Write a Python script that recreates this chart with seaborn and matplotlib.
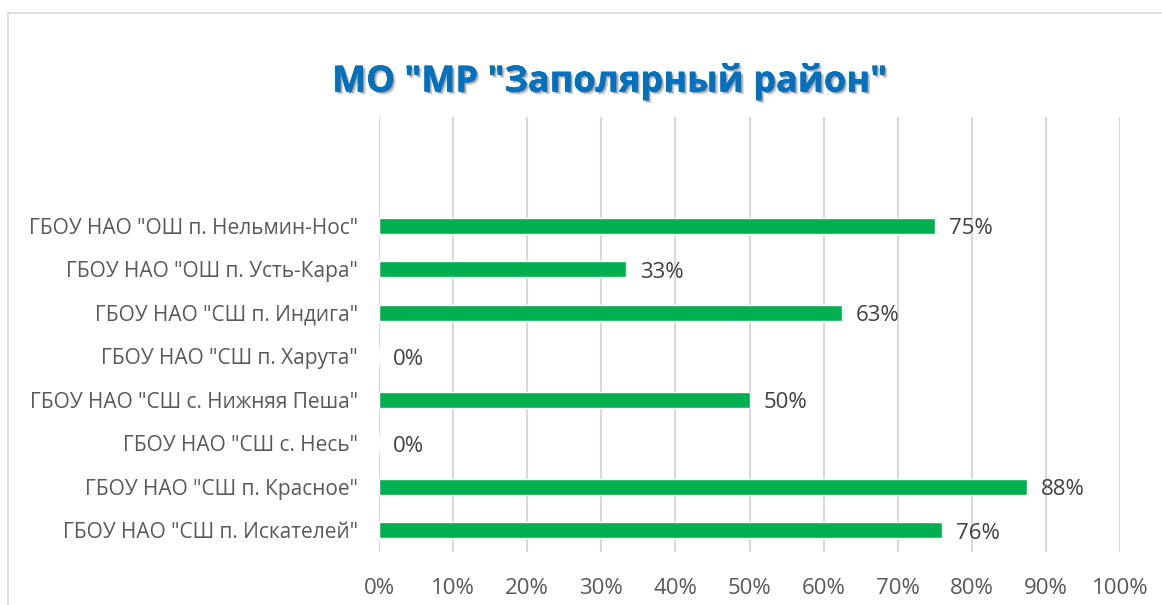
import matplotlib
matplotlib.use("Agg")
import matplotlib.pyplot as plt
import matplotlib.patheffects as pe
from matplotlib.patches import Rectangle
from matplotlib.ticker import MultipleLocator, PercentFormatter
import seaborn as sns
import pandas as pd

# --- data ---
schools = [
    'ГБОУ НАО "ОШ п. Нельмин-Нос"',
    'ГБОУ НАО "ОШ п. Усть-Кара"',
    'ГБОУ НАО "СШ п. Индига"',
    'ГБОУ НАО "СШ п. Харута"',
    'ГБОУ НАО "СШ с. Нижняя Пеша"',
    'ГБОУ НАО "СШ с. Несь"',
    'ГБОУ НАО "СШ п. Красное"',
    'ГБОУ НАО "СШ п. Искателей"',
]
share = [0.75, 0.333, 0.625, 0.0, 0.50, 0.0, 0.875, 0.76]
title = 'МО "МР "Заполярный район"'

sns.set_theme(style="white")
plt.rcParams['font.family'] = ['Open Sans', 'DejaVu Sans']

df = pd.DataFrame({'school': schools, 'share': share})

fig = plt.figure(figsize=(11.62, 6.05), dpi=100)
ax = fig.add_axes([379 / 1162, 1 - 552 / 605, (1120 - 379) / 1162, (552 - 117) / 605])

sns.barplot(data=df, x='share', y='school', orient='h', color='#00B050',
            width=0.36, saturation=1, ax=ax)

ax.set_xlim(0, 1)
ax.set_ylim(7.5, -2.5)
ax.xaxis.set_major_locator(MultipleLocator(0.1))
ax.xaxis.set_major_formatter(PercentFormatter(1.0, decimals=0))
ax.grid(axis='x', color='#D9D9D9', linewidth=1.5)
ax.set_axisbelow(True)
for s in ax.spines.values():
    s.set_visible(False)
ax.set_xlabel('')
ax.set_ylabel('')
ax.tick_params(axis='both', length=0, labelcolor='#595959')
ax.tick_params(axis='x', pad=19, labelsize=16)
ax.tick_params(axis='y', pad=15, labelsize=15)

# Excel-style rounding (half up)
labels = [f"{int(v * 100 + 0.5)}%" for v in share]
anns = ax.bar_label(ax.containers[0], labels=labels, padding=10, fontsize=16, color='#404040')
for a in anns:
    a.xyann = (10, -2)

shadow = [pe.withSimplePatchShadow(offset=(2, -2), shadow_rgbFace='#000000', alpha=0.18),
          pe.withSimplePatchShadow(offset=(1, -1), shadow_rgbFace='#000000', alpha=0.25),
          pe.Normal()]
fig.text(610 / 1162, 1 - 82 / 605, title, ha='center', va='center', fontsize=26,
         fontweight='bold', color='#0070C0', path_effects=shadow)

# chart frame
fig.patches.append(Rectangle((8 / 1162, -0.05), 1.2, 1.05 - 12.5 / 605,
                             transform=fig.transFigure, fill=False,
                             edgecolor='#D9D9D9', linewidth=1.2))

fig.savefig('out.png', dpi=100)
